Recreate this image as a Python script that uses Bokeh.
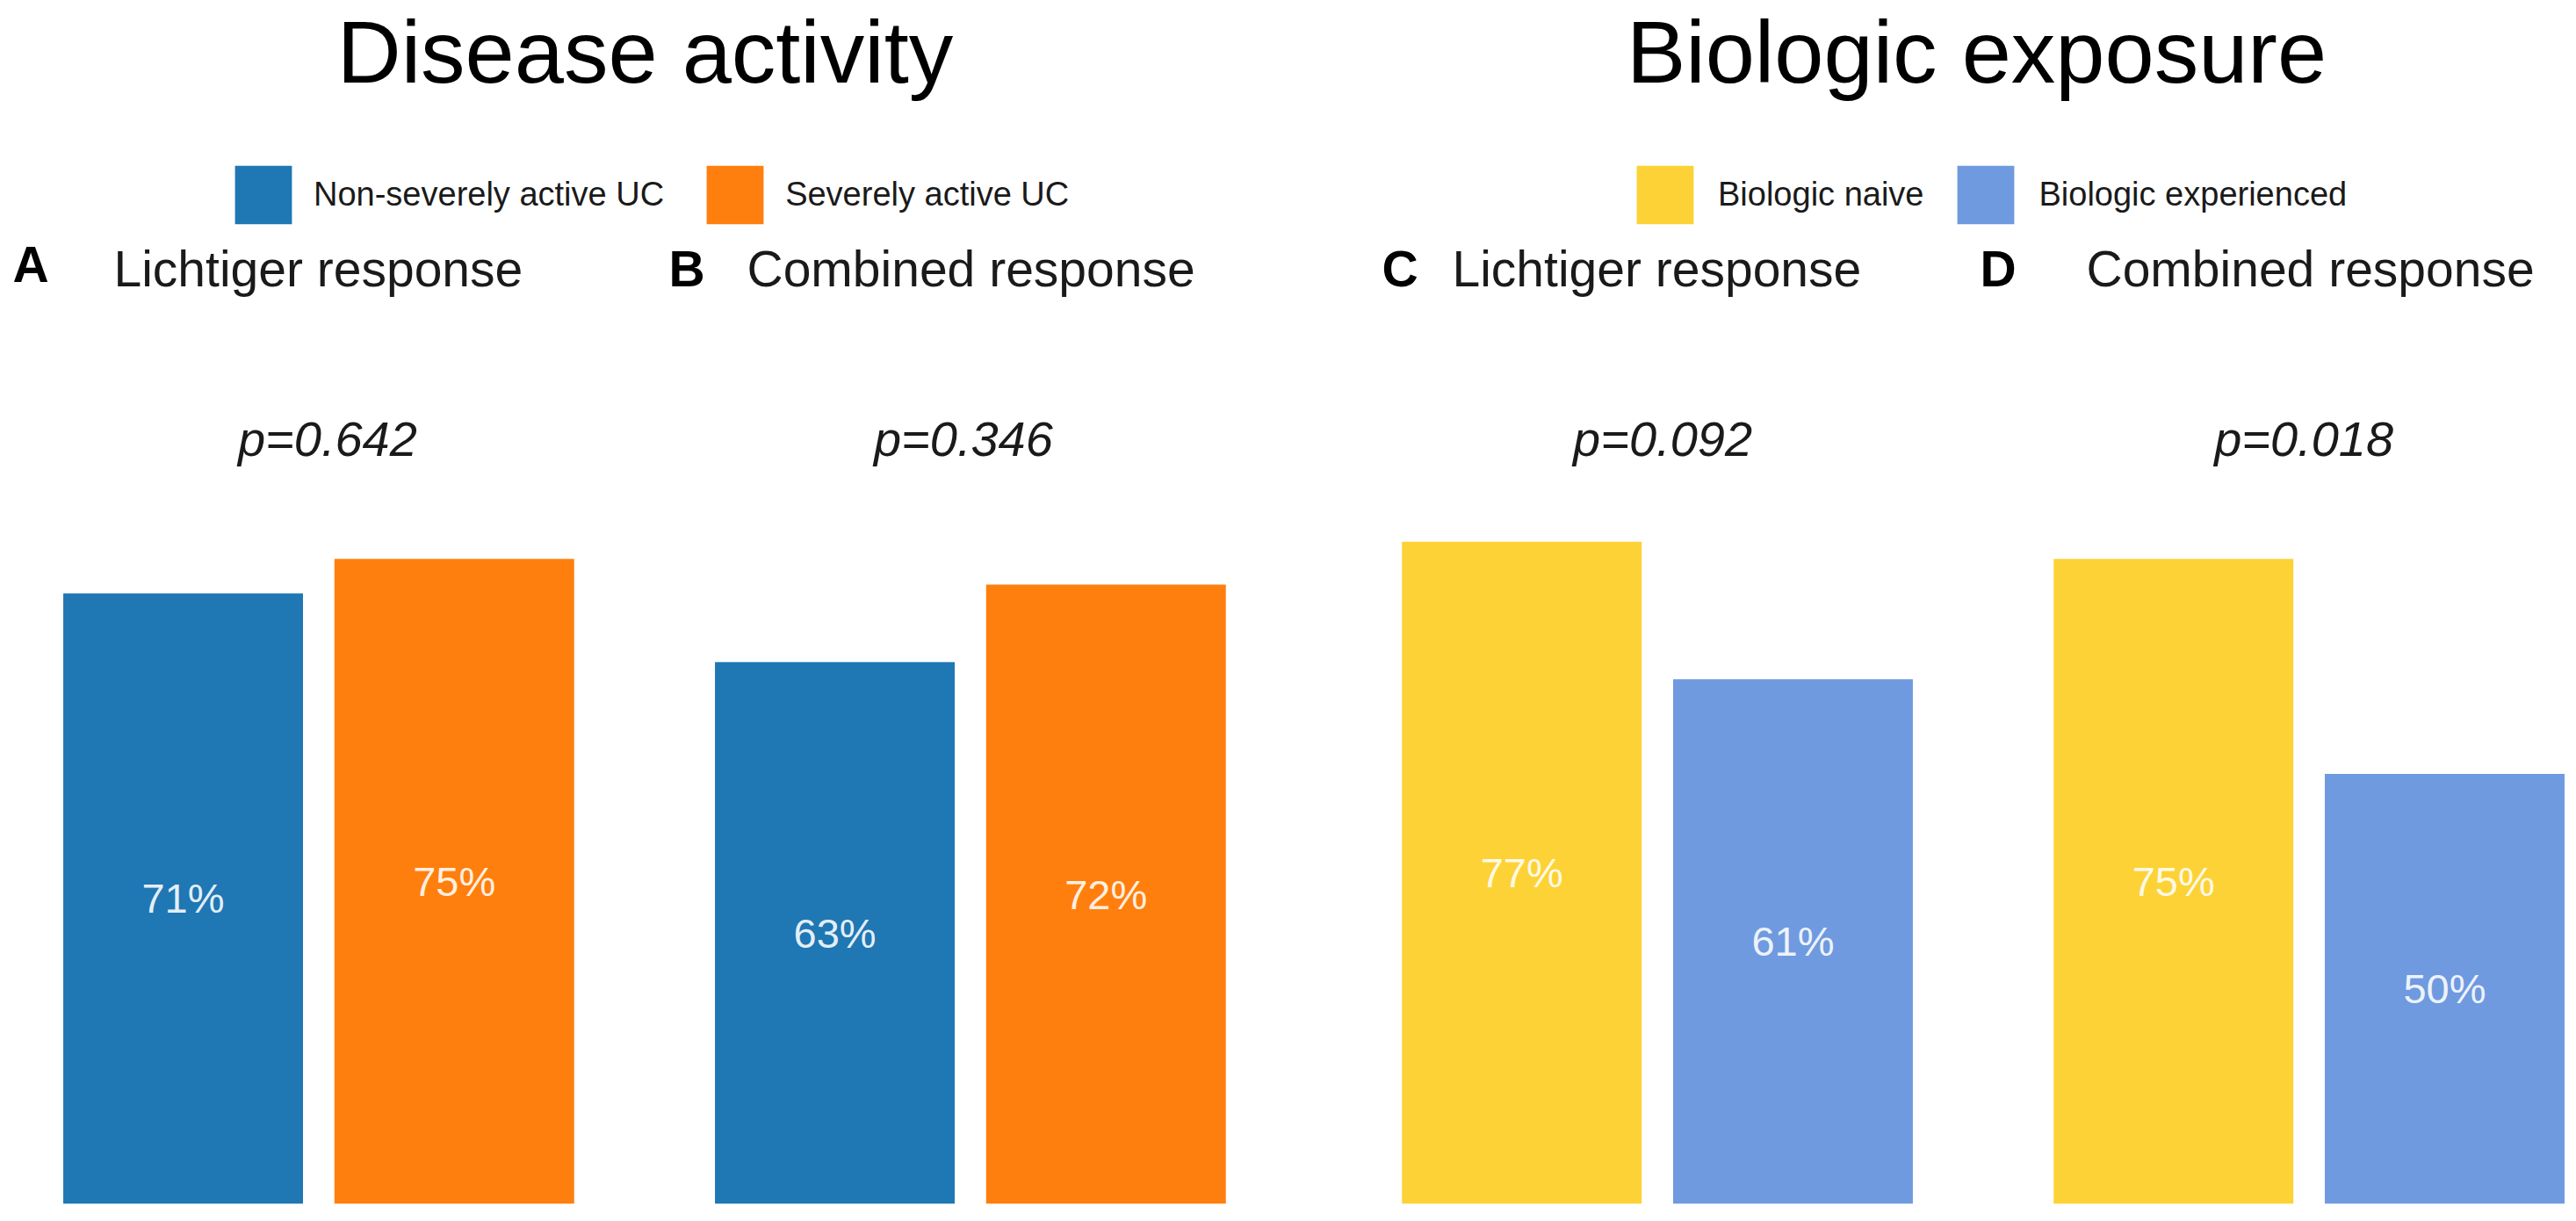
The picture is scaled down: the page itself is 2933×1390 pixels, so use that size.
from bokeh.plotting import figure
from bokeh.layouts import row
from bokeh.models import ColumnDataSource, FactorRange, Range1d, Label, Legend, LegendItem
from bokeh.core.properties import value
from bokeh.embed import file_html
from bokeh.resources import INLINE

# ---------------- data ----------------
group_titles = ["Disease activity", "Biologic exposure"]
panel_letters = ["A", "B", "C", "D"]
panel_titles = ["Lichtiger response", "Combined response", "Lichtiger response", "Combined response"]
panel_groups = ["Disease activity", "Disease activity", "Biologic exposure", "Biologic exposure"]
da_categories = ["Non-severely active UC", "Severely active UC"]
be_categories = ["Biologic naive", "Biologic experienced"]
lichtiger_da = [71, 75]
combined_da = [63, 72]
lichtiger_be = [77, 61]
combined_be = [75, 50]
p_values = ["p=0.642", "p=0.346", "p=0.092", "p=0.018"]
category_colors = {
    "Non-severely active UC": "#1F77B4",
    "Severely active UC": "#FF7F0E",
    "Biologic naive": "#FDD236",
    "Biologic experienced": "#6F9AE0",
}

panel_values = [lichtiger_da, combined_da, lichtiger_be, combined_be]
panel_categories = [da_categories, da_categories, be_categories, be_categories]

xs, tops, colors, labels, mids = [], [], [], [], []
for g, letter, cats, vals in zip(panel_groups, panel_letters, panel_categories, panel_values):
    for c, v in zip(cats, vals):
        xs.append((g, letter, c))
        tops.append(v)
        mids.append(v / 2)
        colors.append(category_colors[c])
        labels.append(f"{v}%")

bars = ColumnDataSource(dict(x=xs, top=tops, mid=mids, color=colors, label=labels))

# ---------------- layout constants ----------------
TOTAL_W, H = 2933, 1390
STRIP_W = 66                 # left strip holding panel letter "A"
W = TOTAL_W - STRIP_W
RIGHT, BOTTOM = 8, 20
PX_PER_PCT = 9.79
FONT = "Liberation Sans"
TXT = "#1a1a1a"
P_Y = 89.0
P_XOFF = [10, -8, 6, -6]

x_range = FactorRange(*xs, factor_padding=0.087, subgroup_padding=0.5255,
                      group_padding=0.667, range_padding=0)
y_range = Range1d(0, (H - BOTTOM) / PX_PER_PCT)

p = figure(width=W, height=H, x_range=x_range, y_range=y_range,
           output_backend="svg", toolbar_location=None, tools="")
p.min_border = 0
p.min_border_right = RIGHT
p.min_border_bottom = BOTTOM
p.axis.visible = False
p.grid.visible = False
p.outline_line_color = None
p.background_fill_color = "white"
p.border_fill_color = "white"

r = p.vbar(x="x", top="top", width=0.961, fill_color="color", line_color=None, source=bars)

p.text(x="x", y="mid", text="label", source=bars, text_align="center",
       text_baseline="middle", text_font=value(FONT), text_font_size="47px",
       text_color="white", text_alpha=0.9)

pv = ColumnDataSource(dict(x=[(g, l) for g, l in zip(panel_groups, panel_letters)],
                           y=[P_Y] * 4, text=p_values, xoff=P_XOFF))
p.text(x="x", y="y", text="text", x_offset="xoff", source=pv, text_align="center",
       text_baseline="middle", text_font=value(FONT), text_font_size="56px",
       text_font_style="italic", text_color=TXT)


def fx(ix):
    return ix - STRIP_W


def fy(iy):
    return (H - BOTTOM) - iy


# titles
for t, cx in zip(group_titles, [734, 2250]):
    p.add_layout(Label(x=fx(cx), y=fy(58), x_units="screen", y_units="screen", text=t,
                       text_align="center", text_baseline="middle",
                       text_font=FONT, text_font_size="101px", text_color="black"))

# panel headers
HEAD_Y = 305
letter_x = [14, 761, 1573, 2254]
title_x = [129, 850, 1653, 2375]
for i, (letter, t, lx, tx) in enumerate(zip(panel_letters, panel_titles, letter_x, title_x)):
    if i > 0:
        p.add_layout(Label(x=fx(lx), y=fy(HEAD_Y), x_units="screen", y_units="screen",
                           text=letter, text_align="left", text_baseline="middle",
                           text_font=FONT, text_font_size="57px", text_font_style="bold",
                           text_color="black"))
    p.add_layout(Label(x=fx(tx), y=fy(HEAD_Y), x_units="screen", y_units="screen", text=t,
                       text_align="left", text_baseline="middle", text_font=FONT,
                       text_font_size="57px", text_color=TXT))


# legends
def make_legend(items, left_ix, spacing, standoff):
    lg = Legend(items=items, orientation="horizontal", location=(fx(left_ix), fy(263)),
                glyph_width=81, glyph_height=83, label_standoff=standoff, spacing=spacing,
                padding=0, margin=0, border_line_color=None, background_fill_alpha=0,
                label_text_font=FONT, label_text_font_size="38px", label_text_color=TXT)
    p.add_layout(lg)


make_legend([LegendItem(label=da_categories[0], renderers=[r], index=0),
             LegendItem(label=da_categories[1], renderers=[r], index=1)], 259, 40, 17)
make_legend([LegendItem(label=be_categories[0], renderers=[r], index=4),
             LegendItem(label=be_categories[1], renderers=[r], index=5)], 1855, 30, 20)

# left strip with the first panel letter (outside the bar frame)
strip = figure(width=STRIP_W, height=H, x_range=Range1d(0, 1), y_range=Range1d(0, 1),
               output_backend="svg", toolbar_location=None, tools="")
strip.min_border = 0
strip.axis.visible = False
strip.grid.visible = False
strip.outline_line_color = None
strip.border_fill_color = "white"
strip.add_layout(Label(x=14, y=H - HEAD_Y - 15, x_units="screen", y_units="screen",
                       text=panel_letters[0], text_align="left", text_baseline="middle",
                       text_font=FONT, text_font_size="57px", text_font_style="bold",
                       text_color="black"))

layout = row(strip, p)
open("out.html", "w").write(file_html(layout, INLINE))
